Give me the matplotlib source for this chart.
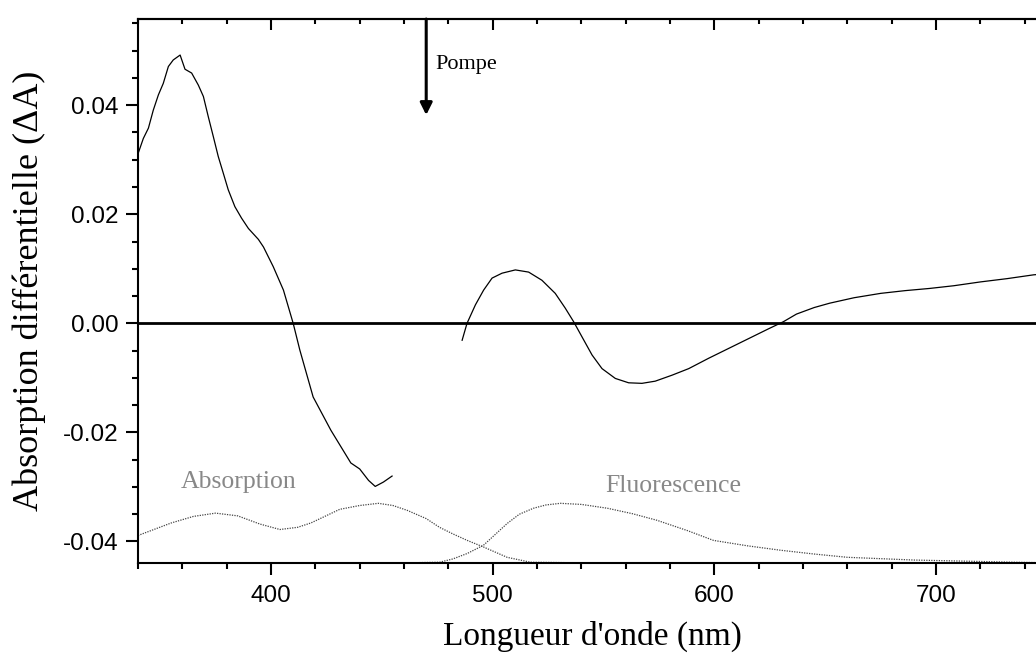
import matplotlib.pyplot as plt

# transient absorption, two pieces (the pump region is cut out)
wl_a = [340.1, 342.4, 344.7, 346.9, 349.2, 351.4, 353.7, 355.9, 359, 361.2, 364.2,
        367.2, 369.5, 371.7, 374, 376.2, 378.5, 380.7, 383.7, 386.7, 389.8, 394.3,
        396.6, 401, 405.6, 410, 413, 419, 427, 436, 440, 444, 447, 450.7, 454.6]
da_a = [0.0312, 0.0339, 0.0358, 0.0391, 0.0419, 0.0440, 0.0471, 0.0483, 0.0492,
        0.0466, 0.0459, 0.0437, 0.0416, 0.0379, 0.0342, 0.0306, 0.0275, 0.0245,
        0.0214, 0.0193, 0.0174, 0.0154, 0.014, 0.0104, 0.0061, 0.0, -0.0049,
        -0.0135, -0.0196, -0.0256, -0.0267, -0.0288, -0.0299, -0.0291, -0.028]

wl_b = [486.2, 488.4, 492.2, 495.9, 499.7, 504.2, 510.2, 516.2, 522.2, 528.2, 532.7,
        536.5, 540.3, 544.8, 549.3, 555.3, 561.3, 567.3, 573.3, 580.9, 588.4, 597.4,
        606.4, 615.4, 624.4, 631.1, 637, 645, 652, 663, 675, 686, 697, 708, 720,
        732, 744, 750]
da_b = [-0.0031, 0.0, 0.0034, 0.0061, 0.0083, 0.0092, 0.0098, 0.0094, 0.0079, 0.0055,
        0.0028, 0.0003, -0.0025, -0.0058, -0.0083, -0.0101, -0.0109, -0.0110, -0.0106,
        -0.0095, -0.0083, -0.0064, -0.0046, -0.0028, -0.0010, 0.0003, 0.0017, 0.0029,
        0.0037, 0.0047, 0.0055, 0.0060, 0.0064, 0.0069, 0.0076, 0.0082, 0.0089, 0.0091]

# steady-state spectra, scaled into the bottom of the plot
wl_abs = [340, 355, 365, 375, 385, 395, 404, 412, 418, 431, 440, 448.4, 455, 461.5,
          470, 476, 482, 488.5, 495.8, 506.5, 517, 560, 750]
abs_sp = [-0.0389, -0.0366, -0.0354, -0.0348, -0.0353, -0.0368, -0.0378, -0.0374,
          -0.0366, -0.0341, -0.0334, -0.033, -0.0334, -0.0343, -0.0358, -0.0374,
          -0.0386, -0.0398, -0.041, -0.0429, -0.0438, -0.0440, -0.0440]

wl_fl = [450, 476, 482, 488.5, 495.8, 506.5, 512, 518.4, 524, 530.5, 540, 551.7,
         563, 574, 587.8, 599.6, 615, 629.8, 645, 660, 690, 735, 750]
fl_sp = [-0.0440, -0.0438, -0.0432, -0.0422, -0.0407, -0.0367, -0.0350, -0.0339,
         -0.0333, -0.0330, -0.0332, -0.0339, -0.0349, -0.0361, -0.038, -0.0398,
         -0.0408, -0.0416, -0.0423, -0.0429, -0.0434, -0.0438, -0.0439]

plt.rcParams['font.family'] = 'Liberation Sans'

fig = plt.figure(figsize=(10.36, 6.57), dpi=100)
ax = fig.add_axes([0.1332, 0.1426, 1.0106 - 0.1332, 0.971 - 0.1426])

ax.axhline(0, color='k', lw=2.0)
ax.plot(wl_a, da_a, color='k', lw=0.9)
ax.plot(wl_b, da_b, color='k', lw=0.9)
ax.plot(wl_abs, abs_sp, color='#444444', lw=0.9, ls=(0, (1, 1)))
ax.plot(wl_fl, fl_sp, color='#444444', lw=0.9, ls=(0, (1, 1)))

ax.set_xlim(340, 750)
ax.set_ylim(-0.044, 0.0558)

# pump arrow
ax.annotate('', xy=(470, 0.0382), xytext=(470, 0.0558),
            arrowprops=dict(arrowstyle='-|>', color='k', lw=2.2,
                            mutation_scale=18, shrinkA=0, shrinkB=0))
ax.text(474, 0.0475, 'Pompe', family='Liberation Serif', fontsize=16, va='center')

ax.text(385.5, -0.0291, 'Absorption', family='Liberation Serif', fontsize=18.5,
        color='#888888', ha='center', va='center')
ax.text(581.5, -0.0299, 'Fluorescence', family='Liberation Serif', fontsize=18.5,
        color='#888888', ha='center', va='center')

ax.set_xticks([400, 500, 600, 700])
ax.set_xticks(range(340, 751, 20), minor=True)
ax.set_yticks([-0.04, -0.02, 0.0, 0.02, 0.04])
ax.set_yticklabels(['-0.04', '-0.02', '0.00', '0.02', '0.04'])
ax.set_yticks([v * 0.005 for v in range(-8, 12)], minor=True)

for s in ax.spines.values():
    s.set_linewidth(1.5)

ax.tick_params(axis='both', which='major', labelsize=17.5, width=1.5, length=8.5)
ax.tick_params(axis='both', which='minor', width=1.5, length=4.5)
ax.tick_params(axis='x', which='both', direction='out', top=False, pad=7)
ax.tick_params(axis='y', which='both', direction='out', pad=5.5)

# inward ticks on the top and right edges
top = ax.secondary_xaxis('top')
top.set_xticks([400, 500, 600, 700])
top.set_xticks(range(340, 751, 20), minor=True)
top.tick_params(which='major', direction='in', length=8, width=1.5, labeltop=False)
top.tick_params(which='minor', direction='in', length=3.6, width=1.5)
top.spines['top'].set_linewidth(1.5)

right = ax.secondary_yaxis('right')
right.set_yticks([-0.04, -0.02, 0.0, 0.02, 0.04])
right.tick_params(which='major', direction='in', length=8, width=1.5, labelright=False)
right.tick_params(which='minor', length=0)

ax.set_xlabel("Longueur d'onde (nm)", family='Liberation Serif', fontsize=24, labelpad=10)
ax.set_ylabel('Absorption différentielle (\u0394A)', family='Liberation Serif', fontsize=26,
              labelpad=12)

fig.savefig('out.png', dpi=100)
